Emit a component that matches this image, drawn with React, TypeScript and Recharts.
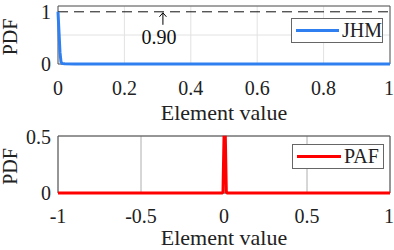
import React from 'react';
import {
  LineChart, Line, XAxis, YAxis, CartesianGrid, ReferenceLine,
  ReferenceDot, ReferenceArea, Legend
} from 'recharts';

// JHM density, element values in [0, 1]
const JHM_X = [0, 0.003, 0.006, 0.009, 0.012, 0.02, 0.05, 0.2, 0.5, 0.8, 1];
const JHM_PDF = [0.9, 0.55, 0.2, 0.04, 0.01, 0.004, 0.002, 0.001, 0.001, 0.001, 0.001];

// PAF density, element values in [-1, 1]
const PAF_X = [-1, -0.5, -0.012, -0.006, 0, 0.008, 0.014, 0.02, 0.5, 1];
const PAF_PDF = [0, 0, 0, 0.01, 0.49, 0.49, 0.01, 0, 0, 0];

const TOP_X_TICKS = [0, 0.2, 0.4, 0.6, 0.8, 1];
const TOP_Y_TICKS = [0, 0.5, 1];
const BOT_X_TICKS = [-1, -0.5, 0, 0.5, 1];
const BOT_Y_TICKS = [0, 0.5];

const THRESHOLD = 0.9;

const jhmData = JHM_X.map((x, i) => ({ x, pdf: JHM_PDF[i] }));
const pafData = PAF_X.map((x, i) => ({ x, pdf: PAF_PDF[i] }));

const FONT = 'Liberation Serif, Times New Roman, serif';
const tickStyle = { fill: '#222', fontSize: 20, fontFamily: FONT, style: { fontFamily: FONT } };

const yLabel = ({ viewBox }: any) => {
  const cx = viewBox.x + 10;
  const cy = viewBox.y + viewBox.height / 2 + 2;
  return (
    <text x={cx} y={cy} transform={`rotate(-90 ${cx} ${cy})`} textAnchor="middle"
      dominantBaseline="central" fontSize={20} style={{ fontFamily: FONT }} fill="#222">PDF</text>
  );
};

const xLabel = (dy: number) => ({ viewBox }: any) => (
  <text x={viewBox.x + viewBox.width / 2} y={viewBox.y + dy} textAnchor="middle"
    fontSize={22} style={{ fontFamily: FONT }} fill="#222">Element value</text>
);

const legendBox = (name: string, color: string) => () => (
  <div style={{
    border: '1px solid #666', background: '#fff', width: 92, height: 25, boxSizing: 'border-box',
    display: 'flex', alignItems: 'center', fontFamily: FONT, fontSize: 20, color: '#222'
  }}>
    <div style={{ width: 44, height: 3, background: color, marginLeft: 4, marginRight: 3 }} />
    <span>{name}</span>
  </div>
);

const arrowNote = (p: any) => (
  <g>
    <line x1={p.cx} y1={p.cy + 1} x2={p.cx} y2={p.cy + 13} stroke="#000" strokeWidth={1} />
    <path d={`M${p.cx - 3.5},${p.cy + 5} L${p.cx},${p.cy + 1} L${p.cx + 3.5},${p.cy + 5}`}
      fill="none" stroke="#000" strokeWidth={1} />
    <text x={p.cx - 4} y={p.cy + 32} textAnchor="middle" fontSize={20}
      style={{ fontFamily: FONT }} fill="#111">0.90</text>
  </g>
);

// short inward tick marks along the top and bottom frame edges
const innerTicks = (domain: number[], ticks: number[]) => [
  <XAxis key="tt" xAxisId="tt" orientation="top" mirror type="number" domain={domain} ticks={ticks}
    height={0} tick={false} tickSize={3} axisLine={false} tickLine={{ stroke: '#444' }} />,
  <XAxis key="bt" xAxisId="bt" orientation="bottom" mirror type="number" domain={domain} ticks={ticks}
    height={0} tick={false} tickSize={3} axisLine={false} tickLine={{ stroke: '#444' }} />,
];

export default function App() {
  return (
    <div style={{ position: 'absolute', left: 0, top: 0, width: 394, height: 250, background: '#fff' }}>
      <LineChart width={394} height={125} data={jhmData} margin={{ top: 6, right: 4, bottom: 6, left: 0 }}>
        <CartesianGrid stroke="#e2e2e2" verticalValues={TOP_X_TICKS} horizontalValues={TOP_Y_TICKS} />
        <XAxis dataKey="x" type="number" domain={[0, 1]} ticks={TOP_X_TICKS} height={55}
          tickSize={0} tickMargin={17} tick={tickStyle} axisLine={false} label={xLabel(56)} />
        {innerTicks([0, 1], TOP_X_TICKS)}
        <YAxis type="number" domain={[0, 1]} ticks={TOP_Y_TICKS} width={58}
          tickSize={0} tickMargin={7} tick={tickStyle} axisLine={false} label={yLabel} />
        <ReferenceArea x1={0} x2={1} y1={0} y2={1} fill="none" stroke="#555" strokeWidth={1} />
        <ReferenceLine y={THRESHOLD} stroke="#111" strokeDasharray="10 6" strokeWidth={1} />
        <ReferenceDot x={0.316} y={THRESHOLD} r={0} shape={arrowNote} />
        <Line dataKey="pdf" name="JHM" type="linear" stroke="#2f7ff0" strokeWidth={3}
          dot={false} isAnimationActive={false} />
        <Legend layout="vertical" align="center" verticalAlign="middle"
          wrapperStyle={{ left: 291, top: 18, width: 94 }} content={legendBox('JHM', '#2f7ff0')} />
      </LineChart>
      <LineChart width={394} height={125} data={pafData} margin={{ top: 11, right: 4, bottom: 0, left: 0 }}>
        <CartesianGrid stroke="#9a9a9a" strokeWidth={0.8} verticalValues={BOT_X_TICKS} horizontalValues={BOT_Y_TICKS} />
        <XAxis dataKey="x" type="number" domain={[-1, 1]} ticks={BOT_X_TICKS} height={57}
          tickSize={0} tickMargin={16} tick={tickStyle} axisLine={false} label={xLabel(52)} />
        {innerTicks([-1, 1], BOT_X_TICKS)}
        <YAxis type="number" domain={[0, 0.5]} ticks={BOT_Y_TICKS} width={58}
          tickSize={0} tickMargin={7} tick={tickStyle} axisLine={false} label={yLabel} />
        <ReferenceArea x1={-1} x2={1} y1={0} y2={0.5} fill="none" stroke="#555" strokeWidth={1} />
        <Line dataKey="pdf" name="PAF" type="linear" stroke="#ff0000" strokeWidth={3}
          dot={false} isAnimationActive={false} />
        <Legend layout="vertical" align="center" verticalAlign="middle"
          wrapperStyle={{ left: 292, top: 19, width: 92 }} content={legendBox('PAF', '#ff0000')} />
      </LineChart>
    </div>
  );
}
